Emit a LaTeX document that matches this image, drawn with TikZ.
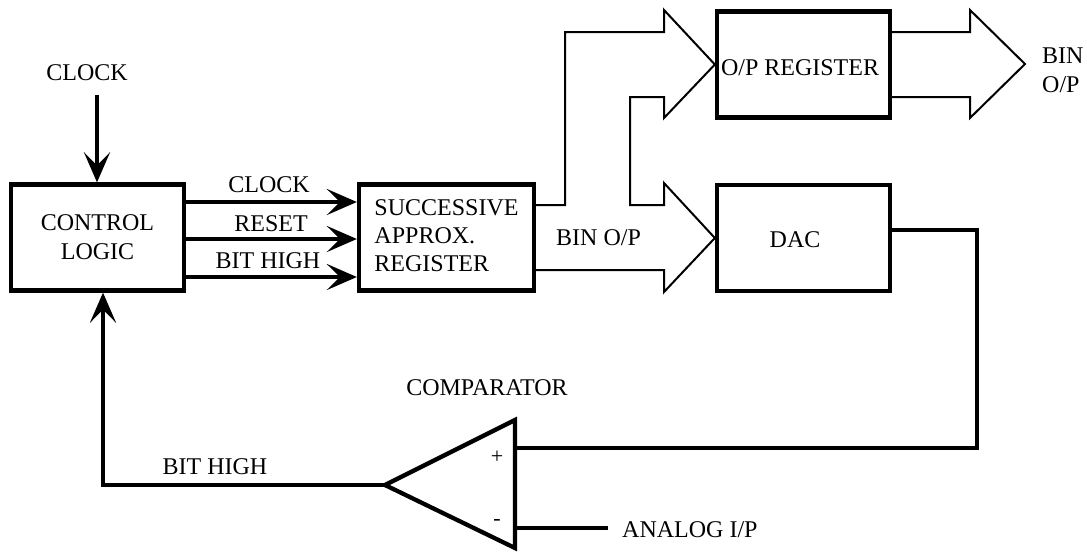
\documentclass[tikz,border=0pt]{standalone}
\usepackage{fontspec}
\setmainfont{Liberation Serif}
\usetikzlibrary{arrows.meta,calc}

\begin{document}
\begin{tikzpicture}[x=1pt,y=-1pt,
  every node/.style={font=\fontsize{24}{29}\selectfont},
  blockbox/.style={draw,line width=4.3pt,rectangle,inner sep=0pt,
    minimum width=173pt,minimum height=106pt,align=center},
  sig/.style={line width=4.3pt},
  sigarrow/.style={sig,-{Stealth[length=30pt,width=26pt,inset=13pt]}},
  bus/.style={line width=2pt,line join=miter},
  label/.style={inner sep=0pt},
  pm/.style={inner sep=0pt,font=\fontsize{22}{22}\selectfont}]
\useasboundingbox (0,0) rectangle (1087,552);

% blocks
\node[blockbox] (ctrl) at (97.5,237.5) {CONTROL\\LOGIC};
\node[blockbox,minimum width=175pt] (sar) at (446.5,237.5)
  {\raisebox{-5pt}{\begin{tabular}{@{}l@{}}SUCCESSIVE\\[-1pt]APPROX.\\[-1pt]REGISTER\end{tabular}}};
\node[blockbox] (opreg) at (803.5,64.5) {};
\node[label] at (800,68) {O/P REGISTER};
\node[blockbox] (dac) at (803.5,238) {};
\node[label] at (795,240) {DAC};

% external clock input
\node[label] (clkin) at (87,73) {CLOCK};
\coordinate (clktop) at (97,95);
\draw[sigarrow] (clktop) -- (clktop |- ctrl.north);

% control lines to the SAR
\foreach \yy/\name in {202/clk,239/rst,277/bit}{
  \coordinate (\name-a) at (ctrl.east |- 0,\yy);
  \coordinate (\name-b) at (sar.west |- 0,\yy);
  \draw[sigarrow] (\name-a) -- (\name-b);
}
\node[label] (clklbl) at (269,185) {CLOCK};
\node[label] (rstlbl) at (271,224) {RESET};
\node[label] (bitlbl) at (268,261) {BIT HIGH};

% binary output bus: SAR -> O/P register and DAC
\coordinate (sarA) at (sar.east |- 0,205);
\coordinate (sarB) at (sar.east |- 0,270);
\draw[bus] (sarA) -- (565,205) -- (565,32) -- (664,32) -- (664,10)
  -- (opreg.west) -- (664,118) -- (664,97) -- (630,97) -- (630,205)
  -- (664,205) -- (664,183) -- (dac.west) -- (664,292) -- (664,270) -- (sarB);
\node[label,anchor=west] (binlbl) at (556,238) {BIN O/P};

% output bus of the O/P register
\coordinate (opA) at (opreg.east |- 0,32);
\coordinate (opB) at (opreg.east |- 0,97);
\draw[bus] (opA) -- (970,32) -- (970,10) -- (1025,64) -- (970,118)
  -- (970,97) -- (opB);
\node[label,anchor=west,align=left] (binout) at (1042,70) {BIN\\O/P};

% comparator
\coordinate (cmpTop) at (515,420);
\coordinate (cmpBot) at (515,548);
\coordinate (cmpOut) at (385,485);
\coordinate (cmpP) at (515,448);
\coordinate (cmpM) at (515,528);
\draw[sig,line join=miter] (cmpTop) -- (cmpOut) -- (cmpBot) -- cycle;
\node[pm] (plus) at (497,457) {+};
\node[pm] (minus) at (497,522) {-};
\node[label] (cmplbl) at (487,388) {COMPARATOR};

% DAC output to the + input
\coordinate (dacOut) at (dac.east |- 0,230);
\draw[sig,line join=miter] (dacOut) -- (977,230) -- (977,448) -- (cmpP);

% analog input to the - input
\coordinate (anEnd) at (608,528);
\draw[sig] (cmpM) -- (anEnd);
\node[label,anchor=west] (anlbl) at (622,530) {ANALOG I/P};

% feedback to the control logic
\draw[sigarrow,line join=miter] (cmpOut) -- (103,485) -- (103,0 |- ctrl.south);
\node[label] (fblbl) at (215,467) {BIT HIGH};
\end{tikzpicture}
\end{document}
